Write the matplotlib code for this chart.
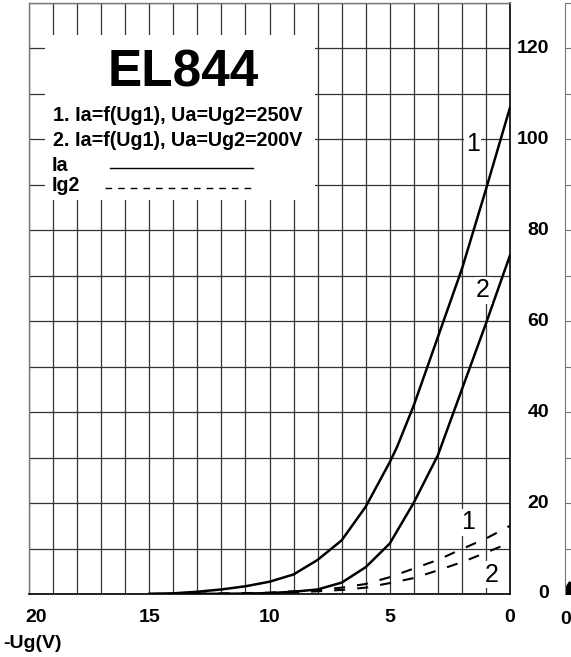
import numpy as np
import matplotlib
matplotlib.use("Agg")
import matplotlib.pyplot as plt
from matplotlib.patches import Rectangle
from matplotlib.lines import Line2D

plt.rcParams.update({"font.family": ["Liberation Sans", "DejaVu Sans"]})

# ----------------------------------------------------------------------
# data (x = -Ug1 in V, y = mA)
# ----------------------------------------------------------------------
ug_ia1 = [15, 14, 13, 12, 11, 10, 9, 8, 7, 6, 5, 4.7, 4, 3, 2, 1, 0]
ia1 = [0, 0.15, 0.5, 1.0, 1.7, 2.7, 4.3, 7.5, 11.8, 19.2, 29.0, 32.3, 41.5, 56.5, 71.5, 89.0, 107.0]

ug_ia2 = [15, 12, 11, 10, 9, 8, 7, 6, 5, 4, 3, 2, 1, 0]
ia2 = [0, 0.05, 0.1, 0.2, 0.5, 1.0, 2.5, 5.9, 11.1, 20.1, 30.5, 45.0, 59.5, 74.5]

ug_ig1 = [15, 12, 10, 9, 8, 7, 6, 5, 4, 3, 2, 1, 0]
ig2_1 = [0, 0.1, 0.3, 0.6, 0.9, 1.4, 2.2, 3.7, 5.6, 7.5, 9.9, 12.2, 15.0]

ug_ig2 = [15, 12, 10, 9, 8, 7, 6, 5, 4, 3, 2, 1, 0]
ig2_2 = [0, 0.05, 0.2, 0.35, 0.6, 0.9, 1.4, 2.4, 3.5, 5.2, 7.0, 9.1, 11.3]

x_labels = [20, 15, 10, 5, 0]
y_labels = [0, 20, 40, 60, 80, 100, 120]

# start of the neighbouring sheet, only a sliver is visible
next_x = [0, 0.08, 0.25]
next_y = [0, 1.2, 2.6]

legend_lines = ["1. Ia=f(Ug1), Ua=Ug2=250V", "2. Ia=f(Ug1), Ua=Ug2=200V"]

# ----------------------------------------------------------------------
W, H = 571, 657
fig = plt.figure(figsize=(W / 100, H / 100), dpi=100)


def fx(px):
    return px / W


def fy(py):
    return 1 - py / H


ax = fig.add_axes([fx(29), fy(594), (510 - 29) / W, (594 - 3) / H])
ax.set_xlim(20, 0)
ax.set_ylim(0, 130)
ax.set_xticks(np.arange(0, 21, 1))
ax.set_yticks(np.arange(0, 131, 10))
ax.tick_params(length=0, labelbottom=False, labelleft=False)
ax.grid(True, color="#333333", lw=0.9)
for s in ["left", "top"]:
    ax.spines[s].set_color("#777777")
    ax.spines[s].set_linewidth(1.0)
for s in ["right", "bottom"]:
    ax.spines[s].set_color("black")
    ax.spines[s].set_linewidth(1.2)

# curves
DASH = (0, (5.3, 5.8))
ax.plot(ug_ia1, ia1, color="black", lw=1.8, zorder=4)
ax.plot(ug_ia2, ia2, color="black", lw=1.8, zorder=4)
ax.plot(ug_ig1, ig2_1, color="black", lw=1.5, ls=DASH, zorder=4)
ax.plot(ug_ig2, ig2_2, color="black", lw=1.5, ls=DASH, zorder=4)

lab = dict(fontsize=18, ha="center", va="center", zorder=5,
           bbox=dict(facecolor="white", edgecolor="none", pad=1.0))
ax.text(1.55, 98.9, "1", **lab)
ax.text(1.12, 66.8, "2", **lab)
ax.text(1.75, 15.8, "1", **lab)
ax.text(0.76, 4.2, "2", **lab)

# title box
ax.add_patch(Rectangle((fx(45), fy(200)), (315 - 45) / W, (200 - 35) / H,
                       transform=fig.transFigure, facecolor="white",
                       edgecolor="none", zorder=3, clip_on=False))
fig.text(fx(183), fy(73), "EL844", fontsize=37, fontweight="bold",
         ha="center", va="center", zorder=6)
LEG = dict(fontsize=14.2, fontweight="bold", ha="left", va="baseline", zorder=6)
for s, base in zip(legend_lines, [121, 146]):
    fig.text(fx(53), fy(base), s, **LEG)
fig.text(fx(52), fy(171), "Ia", **LEG)
fig.text(fx(52), fy(191), "Ig2", **LEG)
fig.add_artist(Line2D([fx(110), fx(253)], [fy(168), fy(168)],
                      color="black", lw=1.0, zorder=6))
fig.add_artist(Line2D([fx(105), fx(252)], [fy(188), fy(188)],
                      color="black", lw=1.0, ls=(0, (4.8, 4.3)), zorder=6))

# axis numbers
for v in x_labels:
    if v == 20:
        fig.text(fx(25), fy(618), str(v), fontsize=14, fontweight="bold",
                 ha="left", va="center")
    else:
        ax.text(v, -24 / 591, str(v), fontsize=14, fontweight="bold",
                ha="center", va="center", clip_on=False,
                transform=ax.get_xaxis_transform())
for v in y_labels:
    ax.text(1 + 39 / 481, v, str(v), fontsize=14, fontweight="bold",
            ha="right", va="center", clip_on=False,
            transform=ax.get_yaxis_transform())
fig.text(fx(3), fy(643), "-Ug(V)", fontsize=14, fontweight="bold",
         ha="left", va="center")

# neighbouring sheet
ax2 = fig.add_axes([fx(565), fy(594), (510 - 29) / W, (594 - 3) / H])
ax2.set_xlim(0, 20)
ax2.set_ylim(0, 130)
for s in ["right", "top", "bottom"]:
    ax2.spines[s].set_visible(False)
ax2.spines["left"].set_color("#777777")
ax2.set_yticks(np.arange(10, 131, 10))
ax2.tick_params(axis="y", direction="in", length=6, color="#777777",
                labelleft=False)
ax2.set_xticks([])
ax2.plot(next_x, next_y, color="black", lw=3, solid_capstyle="butt")
ax2.fill_between(next_x, 0, next_y, color="black")
fig.text(fx(566), fy(620), "0", fontsize=14, fontweight="bold",
         ha="center", va="center")

fig.savefig("out.png", dpi=100)
